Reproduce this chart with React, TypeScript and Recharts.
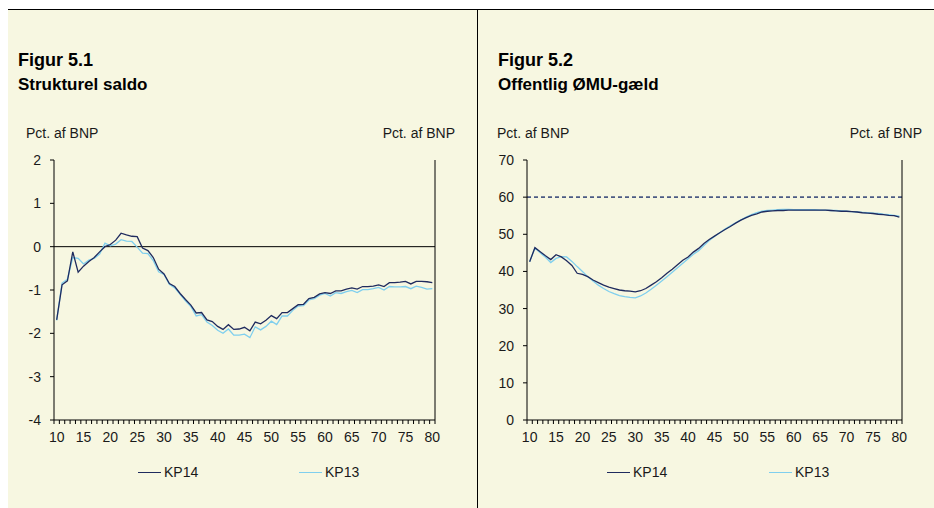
import React from 'react'
import {
  LineChart,
  Line,
  XAxis,
  YAxis,
  ReferenceLine,
} from 'recharts'

const years = [
  10, 11, 12, 13, 14, 15, 16, 17, 18, 19,
  20, 21, 22, 23, 24, 25, 26, 27, 28, 29,
  30, 31, 32, 33, 34, 35, 36, 37, 38, 39,
  40, 41, 42, 43, 44, 45, 46, 47, 48, 49,
  50, 51, 52, 53, 54, 55, 56, 57, 58, 59,
  60, 61, 62, 63, 64, 65, 66, 67, 68, 69,
  70, 71, 72, 73, 74, 75, 76, 77, 78, 79,
  80,
]

// Figur 5.1 – strukturel saldo, pct. af BNP
const saldoKP14 = [
  -1.69, -0.88, -0.79, -0.12, -0.59, -0.45, -0.34, -0.25, -0.12, 0.0,
  0.05, 0.15, 0.31, 0.27, 0.24, 0.23, -0.03, -0.09, -0.25, -0.52,
  -0.63, -0.85, -0.92, -1.08, -1.22, -1.35, -1.53, -1.52, -1.69, -1.73,
  -1.84, -1.91, -1.8, -1.91, -1.9, -1.86, -1.94, -1.74, -1.78, -1.7,
  -1.59, -1.66, -1.52, -1.52, -1.43, -1.34, -1.33, -1.2, -1.17, -1.09,
  -1.06, -1.08, -1.02, -1.02, -0.98, -0.95, -0.98, -0.92, -0.92, -0.91,
  -0.88, -0.92, -0.83, -0.83, -0.82, -0.8, -0.86, -0.8, -0.8, -0.81,
  -0.83,
]
const saldoKP13 = [
  -1.7, -0.84, -0.75, -0.25, -0.27, -0.4, -0.31, -0.27, -0.17, 0.08,
  0.02, 0.06, 0.16, 0.13, 0.12, -0.01, -0.15, -0.16, -0.32, -0.58,
  -0.64, -0.87, -0.95, -1.1, -1.25, -1.38, -1.6, -1.57, -1.74, -1.82,
  -1.93, -2.0, -1.9, -2.04, -2.04, -2.02, -2.1, -1.85, -1.92, -1.84,
  -1.72, -1.8, -1.6, -1.6, -1.47, -1.37, -1.36, -1.23, -1.2, -1.12,
  -1.08, -1.14, -1.06, -1.08, -1.04, -1.01, -1.06, -0.99, -0.99, -0.97,
  -0.94, -1.0, -0.92, -0.93, -0.93, -0.92, -0.97, -0.91, -0.94, -0.98,
  -0.97,
]

// Figur 5.2 – offentlig ØMU-gæld, pct. af BNP
const gaeldKP14 = [
  42.6, 46.4, 45.3, 44.2, 43.2, 44.5, 43.9, 42.9, 41.6, 39.5,
  39.2, 38.6, 37.7, 37.0, 36.3, 35.8, 35.4, 35.0, 34.8, 34.7,
  34.5, 34.8, 35.4, 36.3, 37.2, 38.3, 39.5, 40.6, 41.8, 43.0,
  43.9, 45.2, 46.2, 47.5, 48.6, 49.5, 50.4, 51.3, 52.1, 53.0,
  53.8, 54.5, 55.1, 55.5, 56.0, 56.2, 56.3, 56.4, 56.4, 56.5,
  56.5, 56.5, 56.5, 56.5, 56.5, 56.5, 56.5, 56.4, 56.3, 56.2,
  56.2, 56.1, 56.0, 55.8, 55.7, 55.6, 55.4, 55.3, 55.1, 55.0,
  54.6,
]
const gaeldKP13 = [
  42.6, 46.3, 45.0, 43.8, 42.4, 43.5, 44.0, 43.9, 42.7, 41.3,
  40.0, 38.6, 37.4, 36.3, 35.4, 34.6, 34.0, 33.5, 33.2, 33.0,
  32.9, 33.4, 34.2, 35.2, 36.3, 37.4, 38.6, 39.8, 41.0, 42.2,
  43.4, 44.6, 45.6, 47.0, 48.3, 49.4, 50.4, 51.4, 52.3, 53.1,
  53.9, 54.6, 55.3, 55.8, 56.2, 56.4, 56.5, 56.6, 56.7, 56.7,
  56.6, 56.6, 56.6, 56.6, 56.6, 56.5, 56.5, 56.4, 56.4, 56.3,
  56.2, 56.1, 56.0, 55.9, 55.8, 55.7, 55.6, 55.4, 55.3, 55.1,
  54.9,
]

const saldoTicks = [-4, -3, -2, -1, 0, 1, 2]
const gaeldTicks = [0, 10, 20, 30, 40, 50, 60, 70]
const gaeldLimit = 60

const seriesNames = ['KP14', 'KP13']
const seriesColors = ['#1F2B5E', '#7FCFEE']

const FONT = '"Liberation Sans", Arial, Helvetica, sans-serif'
const BG = '#F7F7E1'

const tickStyle = { fontSize: 14, fill: '#1a1a1a', fontFamily: FONT }

function makeXTick(step: number, lastYear: number) {
  return (props: any) => {
    const { x, y, payload } = props
    const v = payload.value
    return (
      <g>
        <line x1={x - step / 2} x2={x - step / 2} y1={y} y2={y + 4} stroke="#000" />
        {v === lastYear && (
          <line x1={x + step / 2} x2={x + step / 2} y1={y} y2={y + 4} stroke="#000" />
        )}
        {v % 5 === 0 && (
          <text x={x} y={y + 12} dy="0.71em" textAnchor="middle" {...tickStyle}>
            {v}
          </text>
        )}
      </g>
    )
  }
}

function Panel({
  left,
  textLeft,
  unitLeft,
  figur,
  title,
  data,
  ticks,
  domain,
  yLeftW,
  yRightW,
  chartW,
  marginRight,
  refLine,
  legendX,
}: {
  left: number
  textLeft: number
  unitLeft: number
  figur: string
  title: string
  data: any[]
  ticks: number[]
  domain: [number, number]
  yLeftW: number
  yRightW: number
  chartW: number
  marginRight: number
  refLine: 'zero' | 'limit'
  legendX: number[]
}) {
  const plotW = chartW - yLeftW - yRightW - marginRight
  const step = plotW / years.length
  const XTick = makeXTick(step, years[years.length - 1])
  return (
    <div style={{ position: 'absolute', left, top: 0, width: chartW, height: 499 }}>
      <div style={{ position: 'absolute', left: textLeft, top: 40, fontSize: 18, fontWeight: 'bold', lineHeight: '20px', fontFamily: FONT, color: '#000' }}>
        {figur}
      </div>
      <div style={{ position: 'absolute', left: textLeft, top: 65, fontSize: 17, fontWeight: 'bold', lineHeight: '20px', fontFamily: FONT, color: '#000' }}>
        {title}
      </div>
      <div style={{ position: 'absolute', left: unitLeft, top: 113, fontSize: 14, lineHeight: '20px', fontFamily: FONT, color: '#1a1a1a' }}>
        Pct. af BNP
      </div>
      <div style={{ position: 'absolute', right: marginRight + 10, top: 113, fontSize: 14, lineHeight: '20px', fontFamily: FONT, color: '#1a1a1a' }}>
        Pct. af BNP
      </div>
      <div style={{ position: 'absolute', left: 0, top: 140 }}>
        <LineChart
          width={chartW}
          height={300}
          data={data}
          margin={{ top: 10, right: marginRight, bottom: 0, left: 0 }}
        >
          <XAxis
            dataKey="year"
            type="number"
            domain={[years[0] - 0.5, years[years.length - 1] + 0.5]}
            ticks={years}
            interval={0}
            height={30}
            tickSize={0}
            tickMargin={0}
            tickLine={false}
            axisLine={{ stroke: '#000' }}
            tick={<XTick />}
            xAxisId="x"
          />
          <YAxis
            yAxisId="left"
            width={yLeftW}
            domain={domain}
            ticks={ticks}
            interval={0}
            tickSize={4}
            tickMargin={9}
            axisLine={{ stroke: '#000' }}
            tickLine={{ stroke: '#000' }}
            tick={tickStyle}
          />
          <YAxis
            yAxisId="right"
            orientation="right"
            width={yRightW}
            domain={domain}
            ticks={ticks}
            interval={0}
            tickSize={4}
            tickMargin={9}
            axisLine={{ stroke: '#000' }}
            tickLine={{ stroke: '#000' }}
            tick={{ ...tickStyle, textAnchor: 'start' }}
          />
          {refLine === 'zero' ? (
            <ReferenceLine y={0} yAxisId="left" xAxisId="x" stroke="#000" strokeWidth={1} />
          ) : (
            <ReferenceLine
              y={gaeldLimit}
              yAxisId="left"
              xAxisId="x"
              stroke="#4C5B84"
              strokeWidth={1.6}
              strokeDasharray="4 3"
            />
          )}
          <Line
            xAxisId="x"
            yAxisId="left"
            type="linear"
            dataKey="kp13"
            stroke={seriesColors[1]}
            strokeWidth={1.3}
            dot={false}
            isAnimationActive={false}
          />
          <Line
            xAxisId="x"
            yAxisId="left"
            type="linear"
            dataKey="kp14"
            stroke={seriesColors[0]}
            strokeWidth={1.3}
            dot={false}
            isAnimationActive={false}
          />
        </LineChart>
      </div>
      {seriesNames.map((name, i) => (
        <div
          key={name}
          style={{
            position: 'absolute',
            left: legendX[i],
            top: 452,
            height: 20,
            display: 'flex',
            alignItems: 'center',
            fontSize: 14,
            fontFamily: FONT,
            color: '#1a1a1a',
          }}
        >
          <span style={{ display: 'inline-block', width: 23, height: 0, borderTop: `1.5px solid ${seriesColors[i]}`, marginRight: 3 }} />
          {name}
        </div>
      ))}
    </div>
  )
}

export default function App() {
  const saldoData = years.map((year, i) => ({ year, kp14: saldoKP14[i], kp13: saldoKP13[i] }))
  const gaeldData = years.map((year, i) => ({ year, kp14: gaeldKP14[i], kp13: gaeldKP13[i] }))
  return (
    <div
      style={{
        position: 'absolute',
        left: 8,
        top: 9,
        width: 926,
        height: 499,
        background: BG,
        borderTop: '1px solid #000',
        boxSizing: 'border-box',
        overflow: 'hidden',
      }}
    >
      <div style={{ position: 'absolute', left: 469, top: 0, width: 1, height: 499, background: '#000' }} />
      <Panel
        left={0}
        textLeft={10}
        unitLeft={18}
        figur="Figur 5.1"
        title="Strukturel saldo"
        data={saldoData}
        ticks={saldoTicks}
        domain={[-4, 2]}
        yLeftW={46}
        yRightW={30}
        chartW={469}
        marginRight={12}
        refLine="zero"
        legendX={[130, 291]}
      />
      <Panel
        left={469}
        textLeft={21}
        unitLeft={20}
        figur="Figur 5.2"
        title="Offentlig ØMU-gæld"
        data={gaeldData}
        ticks={gaeldTicks}
        domain={[0, 70]}
        yLeftW={50}
        yRightW={30}
        chartW={457}
        marginRight={2}
        refLine="limit"
        legendX={[130, 292]}
      />
    </div>
  )
}
